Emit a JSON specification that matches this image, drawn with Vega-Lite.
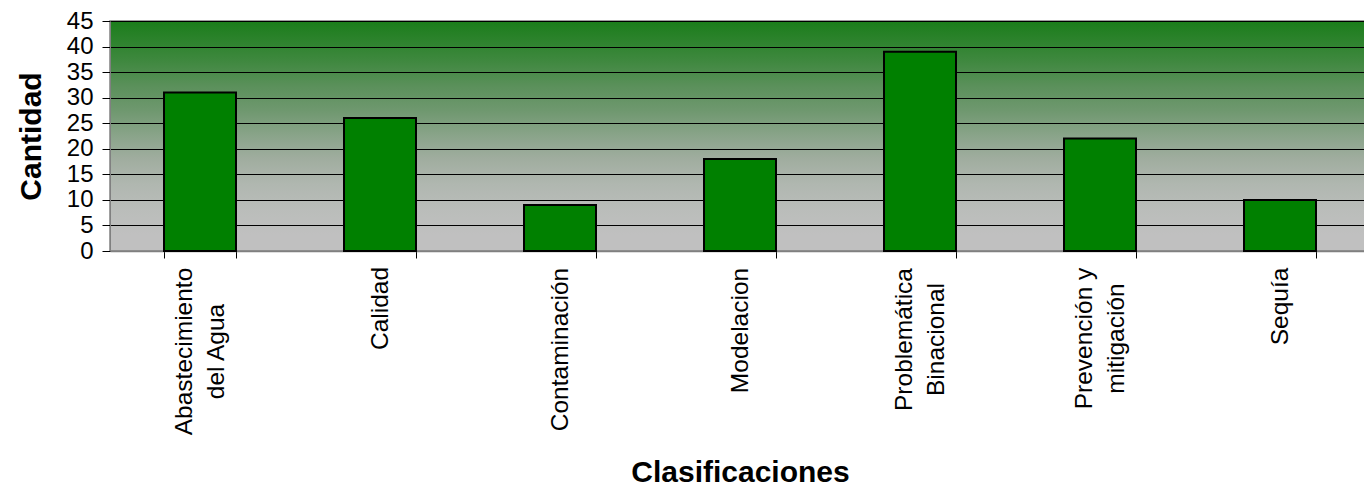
{
  "$schema": "https://vega.github.io/schema/vega-lite/v6.json",
  "autosize": "none",
  "width": 1260,
  "height": 230,
  "padding": {"left": 110, "top": 21, "right": 0, "bottom": 237},
  "background": "white",
  "view": {
    "stroke": "#808080",
    "strokeWidth": 1.5,
    "fill": {
      "gradient": "linear",
      "x1": 0, "y1": 0, "x2": 0, "y2": 1,
      "stops": [
        {"offset": 0.0, "color": "#1b7d1b"},
        {"offset": 0.17, "color": "#3e883e"},
        {"offset": 0.28, "color": "#5a905a"},
        {"offset": 0.39, "color": "#6f986f"},
        {"offset": 0.5, "color": "#8aa48a"},
        {"offset": 0.6, "color": "#a0ad9f"},
        {"offset": 0.71, "color": "#b0b7b0"},
        {"offset": 0.82, "color": "#babdba"},
        {"offset": 0.93, "color": "#c0c0c0"},
        {"offset": 1.0, "color": "#c0c0c0"}
      ]
    }
  },
  "config": {
    "font": "Liberation Sans",
    "axis": {
      "labelFont": "Liberation Sans",
      "titleFont": "Liberation Sans",
      "labelColor": "black",
      "titleColor": "black"
    }
  },
  "data": {
    "values": [
      {"clasificacion": "Abastecimiento del Agua", "cantidad": 31},
      {"clasificacion": "Calidad", "cantidad": 26},
      {"clasificacion": "Contaminación", "cantidad": 9},
      {"clasificacion": "Modelacion", "cantidad": 18},
      {"clasificacion": "Problemática Binacional", "cantidad": 39},
      {"clasificacion": "Prevención y mitigación", "cantidad": 22},
      {"clasificacion": "Sequía", "cantidad": 10}
    ]
  },
  "mark": {"type": "bar", "fill": "#008000", "stroke": "black", "strokeWidth": 2},
  "encoding": {
    "x": {
      "field": "clasificacion",
      "type": "nominal",
      "sort": null,
      "scale": {"paddingInner": 0.6, "paddingOuter": 0.3},
      "axis": {
        "title": "Clasificaciones",
        "titleFontSize": 30,
        "titleFontWeight": "bold",
        "titlePadding": 23,
        "labelAngle": -90,
        "labelAlign": "center",
        "labelFontSize": 24.5,
        "labelLineHeight": 32,
        "labelOffset": {
          "condition": {"test": "datum.value == 'Abastecimiento del Agua' || datum.value == 'Problemática Binacional' || datum.value == 'Prevención y mitigación'", "value": -16},
          "value": 0
        },
        "labelPadding": {
          "condition": [
            {"test": "datum.value == 'Abastecimiento del Agua'", "value": 93},
            {"test": "datum.value == 'Calidad'", "value": 50},
            {"test": "datum.value == 'Contaminación'", "value": 91},
            {"test": "datum.value == 'Modelacion'", "value": 72},
            {"test": "datum.value == 'Problemática Binacional'", "value": 81},
            {"test": "datum.value == 'Prevención y mitigación'", "value": 80}
          ],
          "value": 48
        },
        "labelExpr": "datum.label == 'Abastecimiento del Agua' ? ['Abastecimiento', 'del Agua'] : datum.label == 'Problemática Binacional' ? ['Problemática', 'Binacional'] : datum.label == 'Prevención y mitigación' ? ['Prevención y', 'mitigación'] : datum.label",
        "tickBand": "extent",
        "tickSize": 7,
        "tickColor": "black",
        "domainColor": "#808080",
        "domainWidth": 1.5,
        "grid": false
      }
    },
    "y": {
      "field": "cantidad",
      "type": "quantitative",
      "scale": {"domain": [0, 45], "nice": false},
      "axis": {
        "title": "Cantidad",
        "titleFontSize": 30,
        "titleFontWeight": "bold",
        "titlePadding": 20,
        "values": [0, 5, 10, 15, 20, 25, 30, 35, 40, 45],
        "labelFontSize": 24,
        "labelPadding": 9,
        "tickSize": 8,
        "tickColor": "black",
        "domainColor": "#808080",
        "grid": true,
        "gridColor": "black",
        "gridWidth": 1.2,
        "gridOpacity": 1
      }
    }
  }
}
